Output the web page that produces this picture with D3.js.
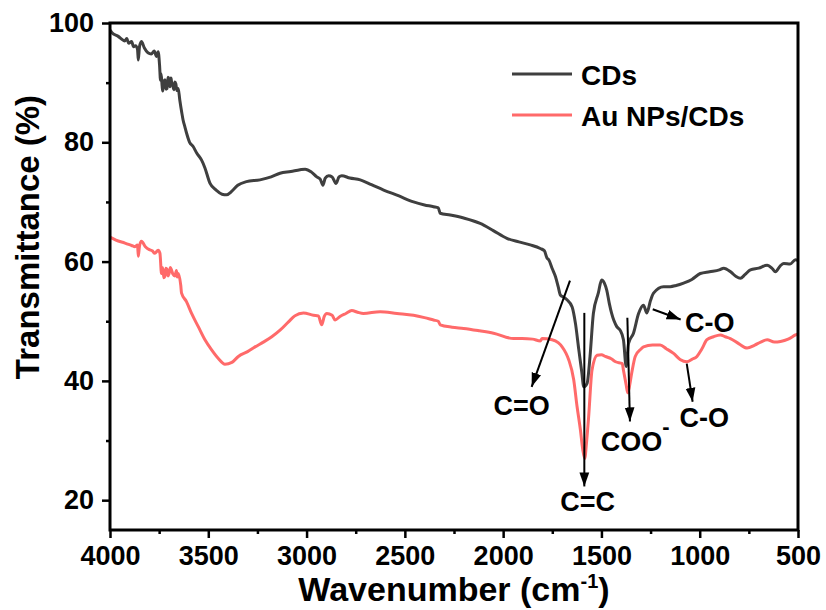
<!DOCTYPE html>
<html>
<head>
<meta charset="utf-8">
<script src="https://cdn.jsdelivr.net/npm/d3@7/dist/d3.min.js"></script>
<style>
  html, body { margin: 0; padding: 0; background: #fff; }
  svg { display: block; font-family: "Liberation Sans", Arial, sans-serif; font-weight: bold; }
</style>
</head>
<body>
<svg id="chart" width="826" height="610"></svg>
<script>
// FTIR spectra as [wavenumber (cm-1), transmittance (%)] pairs
const cdsSpectrum = [
  [4000, 98.8], [3991, 98.4], [3960, 97.8], [3924, 97.0], [3915, 97.4], [3905, 96.6], [3890, 96.9], [3880, 96.0],
  [3870, 96.2], [3860, 95.6], [3856, 93.8], [3850, 96.0], [3840, 96.9], [3825, 95.8], [3807, 95.0], [3790, 94.8],
  [3775, 95.3], [3763, 94.4], [3755, 95.2], [3748, 93.0], [3743, 90.4], [3740, 91.5], [3735, 89.5], [3732, 88.6],
  [3729, 89.3], [3725, 90.2], [3720, 90.5], [3715, 88.9], [3710, 89.0], [3705, 90.9], [3700, 90.6], [3695, 89.3],
  [3690, 90.8], [3687, 90.2], [3680, 89.4], [3675, 88.8], [3670, 90.1], [3665, 89.8], [3660, 88.7], [3653, 89.0],
  [3645, 87.1], [3635, 85.0], [3628, 83.7], [3619, 82.6], [3611, 81.6], [3595, 80.0], [3577, 79.3], [3559, 78.2],
  [3534, 77.0], [3517, 75.7], [3491, 73.1], [3460, 72.0], [3430, 71.3], [3407, 71.2], [3380, 71.8], [3350, 72.8],
  [3306, 73.4], [3237, 73.7], [3180, 74.2], [3135, 74.8], [3080, 75.1], [3033, 75.4], [3007, 75.5], [2975, 75.0],
  [2948, 74.2], [2930, 73.8], [2917, 72.8], [2905, 74.0], [2888, 74.4], [2870, 74.2], [2850, 73.1], [2835, 74.2],
  [2821, 74.4], [2780, 74.0], [2727, 73.7], [2670, 72.9], [2608, 72.0], [2530, 71.0], [2456, 70.0], [2400, 69.5],
  [2354, 69.2], [2330, 69.0], [2320, 68.1], [2269, 67.8], [2201, 67.3], [2117, 66.4], [2050, 65.2], [1981, 63.9],
  [1920, 63.3], [1862, 62.8], [1811, 62.2], [1790, 61.8], [1777, 60.6], [1768, 60.3], [1750, 58.8], [1734, 57.5],
  [1720, 55.8], [1709, 54.4], [1690, 54.0], [1675, 53.6], [1649, 52.4], [1632, 49.6], [1615, 45.2], [1600, 41.5],
  [1590, 39.0], [1573, 39.6], [1558, 44.1], [1541, 51.3], [1516, 54.7], [1499, 56.9], [1485, 56.4], [1473, 55.2],
  [1460, 53.0], [1448, 51.3], [1422, 49.1], [1405, 48.5], [1388, 46.9], [1374, 42.4], [1362, 46.3], [1337, 48.0],
  [1311, 51.3], [1286, 52.7], [1269, 51.4], [1250, 53.5], [1235, 54.7], [1184, 55.8], [1150, 55.8], [1120, 56.0],
  [1082, 56.4], [1040, 57.0], [997, 58.0], [950, 58.3], [900, 58.6], [878, 58.9], [840, 58.2], [815, 57.5],
  [793, 57.2], [770, 57.8], [742, 58.6], [700, 58.9], [657, 59.4], [630, 58.8], [615, 58.3], [590, 59.3],
  [572, 59.7], [540, 59.6], [513, 60.3], [500, 60.2]
];

const auCdsSpectrum = [
  [4000, 64.1], [3970, 63.6], [3924, 63.1], [3890, 62.7], [3873, 62.5], [3860, 62.8], [3856, 60.9], [3850, 62.6],
  [3840, 63.4], [3820, 62.5], [3800, 62.0], [3785, 61.8], [3772, 61.4], [3755, 61.9], [3746, 61.4], [3738, 58.0],
  [3734, 59.0], [3730, 58.5], [3726, 57.3], [3721, 57.5], [3716, 58.9], [3710, 58.7], [3705, 57.6], [3700, 57.9],
  [3693, 59.0], [3687, 58.6], [3680, 57.9], [3670, 57.6], [3662, 58.5], [3658, 57.4], [3653, 58.0], [3640, 56.0],
  [3636, 54.7], [3611, 53.3], [3585, 51.3], [3551, 49.1], [3517, 46.9], [3483, 45.2], [3450, 43.8], [3415, 42.8],
  [3380, 43.1], [3347, 44.1], [3300, 44.9], [3262, 45.7], [3220, 46.5], [3177, 47.4], [3135, 48.5], [3092, 49.9],
  [3060, 50.9], [3016, 51.4], [2965, 51.0], [2940, 50.9], [2923, 49.4], [2910, 50.8], [2897, 51.3], [2870, 51.0],
  [2855, 50.2], [2830, 50.8], [2800, 51.3], [2770, 51.8], [2740, 51.5], [2711, 51.3], [2626, 51.6], [2540, 51.3],
  [2456, 51.0], [2400, 50.6], [2354, 50.2], [2330, 50.0], [2320, 49.4], [2260, 49.0], [2201, 48.8], [2120, 48.4],
  [2049, 48.0], [1947, 47.1], [1904, 47.1], [1850, 47.0], [1811, 46.7], [1802, 47.1], [1751, 46.9], [1720, 46.4],
  [1700, 45.7], [1680, 44.6], [1666, 43.5], [1641, 40.2], [1624, 35.7], [1607, 31.8], [1595, 28.5], [1585, 27.0],
  [1575, 30.0], [1565, 34.0], [1548, 41.8], [1522, 44.3], [1500, 44.4], [1480, 44.1], [1450, 43.7], [1428, 43.2],
  [1394, 42.9], [1388, 41.8], [1375, 39.5], [1366, 38.0], [1358, 39.0], [1345, 41.5], [1328, 44.1], [1300, 45.3],
  [1286, 45.7], [1240, 46.0], [1201, 46.0], [1170, 45.4], [1133, 44.6], [1100, 43.6], [1065, 43.2], [1040, 43.6],
  [1014, 44.1], [990, 45.3], [963, 46.9], [930, 47.4], [895, 47.7], [870, 47.4], [844, 47.1], [800, 46.2],
  [759, 45.5], [720, 46.0], [690, 46.5], [657, 46.9], [620, 46.5], [589, 46.6], [550, 47.0], [513, 47.7], [500, 47.9]
];

const seriesNames = ["CDs", "Au NPs/CDs"];
const seriesColors = ["#3f3f3f", "#ff6a6a"];

const xMajorTicks = [4000, 3500, 3000, 2500, 2000, 1500, 1000, 500];
const xMinorTicks = [3750, 3250, 2750, 2250, 1750, 1250, 750];
const yMajorTicks = [20, 40, 60, 80, 100];
const yMinorTicks = [30, 50, 70, 90];

// Band assignments: arrow start/end and label position, in data units
const bandLabels = ["C=O", "C=C", "COO", "C-O", "C-O"];
const arrowFromW = [1660, 1587, 1368, 1239, 1066];
const arrowFromT = [56.8, 51.4, 50.6, 52.0, 42.9];
const arrowToW = [1855, 1587, 1355, 1097, 1036];
const arrowToT = [39.0, 22.3, 33.2, 50.3, 36.5];
const labelW = [1906, 1570, 1504, 949, 977];
const labelT = [34.3, 18.2, 28.2, 48.2, 32.3];
const labelAnchor = ["middle", "middle", "start", "middle", "middle"];

const svg = d3.select("#chart");
const plot = { left: 110, right: 798, top: 23, bottom: 530 };

const x = d3.scaleLinear().domain([4000, 500]).range([plot.left, plot.right]);
const y = d3.scaleLinear().domain([15, 100]).range([plot.bottom, plot.top]);

const line = d3.line()
  .x(d => x(d[0]))
  .y(d => y(d[1]))
  .curve(d3.curveMonotoneX);

const series = [cdsSpectrum, auCdsSpectrum];

// spectra (red drawn first, black on top)
[1, 0].forEach(i => {
  svg.append("path")
    .datum(series[i])
    .attr("fill", "none")
    .attr("stroke", seriesColors[i])
    .attr("stroke-width", 3)
    .attr("stroke-linejoin", "round")
    .attr("d", line);
});

// frame
svg.append("rect")
  .attr("x", plot.left).attr("y", plot.top)
  .attr("width", plot.right - plot.left).attr("height", plot.bottom - plot.top)
  .attr("fill", "none").attr("stroke", "#000").attr("stroke-width", 3);

// axes
function styleAxis(g) {
  g.select(".domain").remove();
  g.selectAll(".tick line").attr("stroke", "#000").attr("stroke-width", 2.5);
  g.selectAll(".tick text")
    .attr("fill", "#000")
    .style("font-size", "27px")
    .style("font-weight", "bold")
    .style("font-family", "'Liberation Sans', Arial, sans-serif");
}

svg.append("g")
  .attr("transform", `translate(0,${plot.bottom})`)
  .call(d3.axisBottom(x).tickValues(xMajorTicks).tickSize(8).tickPadding(8).tickFormat(d3.format("d")))
  .call(styleAxis);
svg.append("g")
  .attr("transform", `translate(0,${plot.bottom})`)
  .call(d3.axisBottom(x).tickValues(xMinorTicks).tickSize(4).tickFormat(""))
  .call(styleAxis);
svg.append("g")
  .attr("transform", `translate(${plot.left},0)`)
  .call(d3.axisLeft(y).tickValues(yMajorTicks).tickSize(8).tickPadding(8).tickFormat(d3.format("d")))
  .call(styleAxis);
svg.append("g")
  .attr("transform", `translate(${plot.left},0)`)
  .call(d3.axisLeft(y).tickValues(yMinorTicks).tickSize(4).tickFormat(""))
  .call(styleAxis);

// axis titles
const xt = svg.append("text")
  .attr("x", (plot.left + plot.right) / 2).attr("y", 601)
  .attr("text-anchor", "middle")
  .style("font-size", "34px");
xt.append("tspan").text("Wavenumber (cm");
xt.append("tspan").attr("dy", -13).style("font-size", "20px").text("-1");
xt.append("tspan").attr("dy", 13).text(")");

svg.append("text")
  .attr("transform", `translate(39,237) rotate(-90)`)
  .attr("text-anchor", "middle")
  .style("font-size", "33px")
  .text("Transmittance (%)");

// legend
const legendY = [74, 115];
seriesNames.forEach((name, i) => {
  svg.append("line")
    .attr("x1", 512).attr("x2", 572)
    .attr("y1", legendY[i]).attr("y2", legendY[i])
    .attr("stroke", seriesColors[i]).attr("stroke-width", 3);
  svg.append("text")
    .attr("x", 581).attr("y", legendY[i] + 11)
    .style("font-size", "28px")
    .text(name);
});

// arrow marker
svg.append("defs").append("marker")
  .attr("id", "arrowhead")
  .attr("viewBox", "0 0 10 10")
  .attr("refX", 10).attr("refY", 5)
  .attr("markerWidth", 7).attr("markerHeight", 7)
  .attr("markerUnits", "strokeWidth")
  .attr("orient", "auto")
  .append("path")
  .attr("d", "M0,1.5 L10,5 L0,8.5 Z")
  .attr("fill", "#000");

bandLabels.forEach((lab, i) => {
  svg.append("line")
    .attr("x1", x(arrowFromW[i])).attr("y1", y(arrowFromT[i]))
    .attr("x2", x(arrowToW[i])).attr("y2", y(arrowToT[i]))
    .attr("stroke", "#000").attr("stroke-width", 2)
    .attr("marker-end", "url(#arrowhead)");
  const t = svg.append("text")
    .attr("x", x(labelW[i])).attr("y", y(labelT[i]))
    .attr("text-anchor", labelAnchor[i])
    .style("font-size", "27px");
  t.append("tspan").text(lab);
  if (lab === "COO") {
    t.append("tspan").attr("dy", -17).style("font-size", "22px").text("-");
  }
});
</script>
</body>
</html>
